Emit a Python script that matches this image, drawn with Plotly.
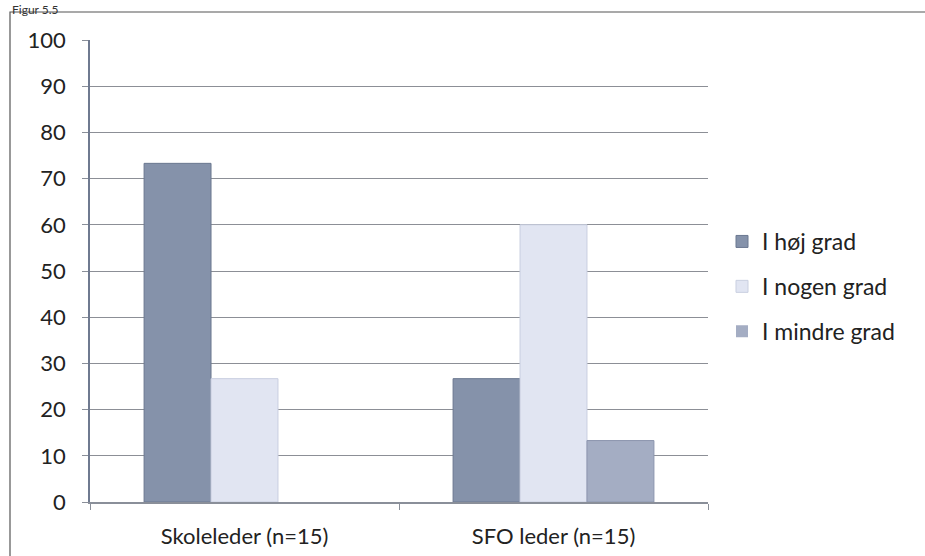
import plotly.graph_objects as go

categories = ["Skoleleder (n=15)", "SFO leder (n=15)"]
series_names = ["I høj grad", "I nogen grad", "I mindre grad"]
hoj_grad = [73.3, 26.7]
nogen_grad = [26.7, 60.0]
mindre_grad = [0, 13.3]
colors = ["#8592aa", "#e1e5f2", "#a4adc3"]
edge_colors = ["#6b7890", "#c9cfe0", "#8c96ae"]
y_ticks = list(range(0, 101, 10))

fig = go.Figure()
for i, (name, vals, col) in enumerate(zip(series_names, [hoj_grad, nogen_grad, mindre_grad], colors)):
    fig.add_trace(go.Bar(
        x=categories, y=vals, name=name, legendgroup=f"g{i}",
        marker=dict(color=col, line=dict(color=edge_colors[i],
                                         width=[0 if v == 0 else 1 for v in vals]))))

W, H = 925, 556
L, R, T, B = 90, 217, 40, 54
pw, ph = W - L - R, H - T - B
px = lambda x: (x - L) / pw
py = lambda y: (H - B - y) / ph

fig.update_layout(
    width=W, height=H,
    margin=dict(l=L, r=R, t=T, b=B),
    paper_bgcolor="white", plot_bgcolor="white",
    barmode="group", bargap=0.35, bargroupgap=0,
    font=dict(family="Lato, Open Sans, sans-serif", size=22, color="#222"),
    showlegend=True,
    legend=dict(x=px(722), y=py(220), xanchor="left", yanchor="top",
                font=dict(size=23), traceorder="grouped", tracegroupgap=12,
                itemwidth=30, bgcolor="rgba(0,0,0,0)"),
    xaxis=dict(showline=True, linecolor="#8a8f99", linewidth=1.5, automargin=False,
               ticks="outside", ticklen=6, tickcolor="#8a8f99", tickson="boundaries",
               ticklabelstandoff=14, tickfont=dict(size=22), showgrid=False),
    yaxis=dict(range=[0, 100], tickvals=y_ticks, showline=True, linecolor="#6f7a90",
               linewidth=1.5, ticks="outside", ticklen=6, tickcolor="#8a8f99",
               ticklabelstandoff=12, automargin=False,
               showgrid=True, gridcolor="#8c8f96", gridwidth=1.2,
               tickfont=dict(size=22), zeroline=False),
    shapes=[dict(type="rect", xref="paper", yref="paper",
                 x0=px(10), x1=px(W + 5),
                 y0=py(H + 5), y1=py(12),
                 line=dict(color="#555", width=1.2), layer="below")],
    annotations=[dict(text="Figur 5.5", xref="paper", yref="paper",
                      x=px(10), y=py(0), xanchor="left", yanchor="top",
                      showarrow=False, font=dict(size=12, color="#333"))],
)

fig.write_html("out.html", config={"displayModeBar": False},
               post_script="document.body.style.margin='0';")
